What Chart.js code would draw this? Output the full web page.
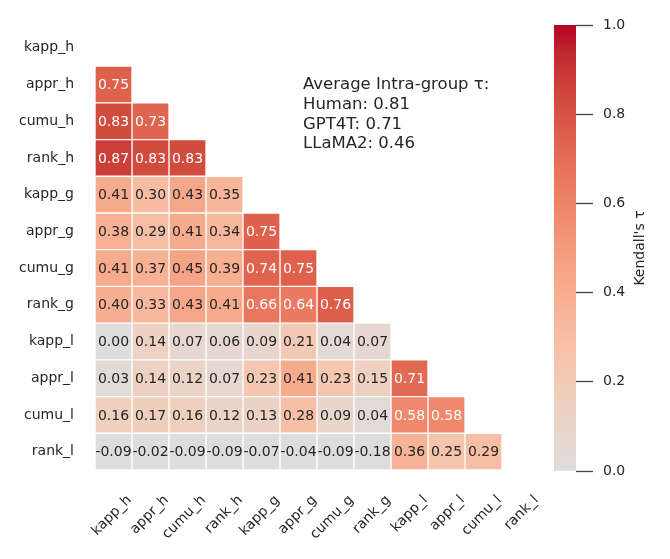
<!DOCTYPE html>
<html>
<head>
<meta charset="utf-8">
<script src="https://cdn.jsdelivr.net/npm/chart.js@4.4.0/dist/chart.umd.min.js"></script>
<style>
    body { margin: 0; background: #fff; }
    #wrap { position: relative; width: 670px; height: 559px; }
    #mainBox { position: absolute; left: 0; top: 0; width: 670px; height: 559px; }
    #barBox { position: absolute; left: 540px; top: 0; width: 130px; height: 559px; }
</style>
</head>
<body>
<div id="wrap">
    <div id="mainBox"><canvas id="heatmap"></canvas></div>
    <div id="barBox"><canvas id="colorbar"></canvas></div>
</div>
<script>
const rowLabels = ['kapp_h', 'appr_h', 'cumu_h', 'rank_h', 'kapp_g', 'appr_g', 'cumu_g', 'rank_g', 'kapp_l', 'appr_l', 'cumu_l', 'rank_l'];
const colLabels = ['kapp_h', 'appr_h', 'cumu_h', 'rank_h', 'kapp_g', 'appr_g', 'cumu_g', 'rank_g', 'kapp_l', 'appr_l', 'cumu_l', 'rank_l'];

// lower triangle of Kendall's tau, row i holds columns 0..i-1
const tauRows = [
    [],
    [0.75],
    [0.83, 0.73],
    [0.87, 0.83, 0.83],
    [0.41, 0.30, 0.43, 0.35],
    [0.38, 0.29, 0.41, 0.34, 0.75],
    [0.41, 0.37, 0.45, 0.39, 0.74, 0.75],
    [0.40, 0.33, 0.43, 0.41, 0.66, 0.64, 0.76],
    [0.00, 0.14, 0.07, 0.06, 0.09, 0.21, 0.04, 0.07],
    [0.03, 0.14, 0.12, 0.07, 0.23, 0.41, 0.23, 0.15, 0.71],
    [0.16, 0.17, 0.16, 0.12, 0.13, 0.28, 0.09, 0.04, 0.58, 0.58],
    [-0.09, -0.02, -0.09, -0.09, -0.07, -0.04, -0.09, -0.18, 0.36, 0.25, 0.29]
];

const groupNames = ['Human', 'GPT4T', 'LLaMA2'];
const groupAverages = [0.81, 0.71, 0.46];

const colorbarTicks = [0, 0.2, 0.4, 0.6, 0.8, 1.0];

// upper half of matplotlib's coolwarm (0 -> grey, 1 -> red)
const cmapStops = [
    [221, 221, 221], [229, 216, 209], [236, 211, 197], [241, 204, 185],
    [245, 196, 173], [247, 187, 160], [247, 177, 148], [247, 166, 135],
    [244, 154, 123], [241, 141, 111], [236, 127, 99], [229, 112, 88],
    [222, 96, 77], [213, 80, 66], [203, 62, 56], [192, 40, 47], [180, 4, 38]
];

const FONT = "'DejaVu Sans', sans-serif";
const TEXT_DARK = '#262626';

function cmapRgb(v) {
    const t = Math.min(1, Math.max(0, v)) * (cmapStops.length - 1);
    const i = Math.min(cmapStops.length - 2, Math.floor(t));
    const f = t - i;
    const a = cmapStops[i], b = cmapStops[i + 1];
    return a.map((c, k) => Math.round(c + (b[k] - c) * f));
}

function cmap(v) {
    const [r, g, b] = cmapRgb(v);
    return `rgb(${r}, ${g}, ${b})`;
}

// same rule seaborn uses to pick annotation colour
function textColorFor(v) {
    const lin = cmapRgb(v).map(c => {
        c = c / 255;
        return c <= 0.03928 ? c / 12.92 : Math.pow((c + 0.055) / 1.055, 2.4);
    });
    const lum = 0.2126 * lin[0] + 0.7152 * lin[1] + 0.0722 * lin[2];
    return lum > 0.408 ? TEXT_DARK : '#ffffff';
}

const datasets = colLabels.map((col, j) => ({
    label: col,
    data: rowLabels.map((row, i) => (i > j ? [j, j + 1] : null)),
    backgroundColor: ctx => {
        const v = tauRows[ctx.dataIndex][ctx.datasetIndex];
        return v === undefined ? 'rgba(0,0,0,0)' : cmap(v);
    },
    borderColor: '#ffffff',
    borderWidth: 1,
    borderSkipped: false,
    barPercentage: 1,
    categoryPercentage: 1,
    grouped: false
}));

const cellLabels = {
    id: 'cellLabels',
    afterDatasetsDraw(chart) {
        const ctx = chart.ctx;
        ctx.save();
        ctx.font = `14px ${FONT}`;
        ctx.textAlign = 'center';
        ctx.textBaseline = 'middle';
        chart.data.datasets.forEach((ds, j) => {
            chart.getDatasetMeta(j).data.forEach((el, i) => {
                const v = tauRows[i][j];
                if (v === undefined) return;
                const p = el.getCenterPoint();
                ctx.fillStyle = textColorFor(v);
                ctx.fillText(v.toFixed(2), p.x, p.y + 1);
            });
        });

        ctx.fillStyle = TEXT_DARK;
        ctx.textAlign = 'left';
        ctx.font = `16.5px ${FONT}`;
        ctx.fillText('Average Intra-group \u03c4:', 303, 85);
        groupNames.forEach((name, k) => {
            ctx.fillText(`${name}: ${groupAverages[k].toFixed(2)}`, 303, 105 + k * 19.5);
        });
        ctx.restore();
    }
};

new Chart(document.getElementById('heatmap'), {
    type: 'bar',
    data: { labels: rowLabels, datasets: datasets },
    options: {
        indexAxis: 'y',
        responsive: true,
        maintainAspectRatio: false,
        animation: false,
        layout: { padding: { left: 0, right: 131, top: 26, bottom: 0 } },
        plugins: { legend: { display: false }, tooltip: { enabled: false } },
        scales: {
            x: {
                type: 'linear',
                min: 0,
                max: 12,
                grid: { display: false, drawTicks: false },
                border: { display: false },
                afterBuildTicks: scale => {
                    scale.ticks = colLabels.map((c, i) => ({ value: i + 0.5 }));
                },
                afterFit: scale => { scale.height = 89; },
                ticks: {
                    autoSkip: false,
                    minRotation: 45,
                    maxRotation: 45,
                    labelOffset: 16,
                    padding: 22,
                    color: TEXT_DARK,
                    font: { family: FONT, size: 14 },
                    callback: (value, index) => colLabels[index]
                }
            },
            y: {
                type: 'category',
                grid: { display: false, drawTicks: false },
                border: { display: false },
                afterFit: scale => { scale.width = 95; },
                ticks: {
                    padding: 21,
                    color: TEXT_DARK,
                    font: { family: FONT, size: 14 }
                }
            }
        }
    },
    plugins: [cellLabels]
});

const colorbarTitle = {
    id: 'colorbarTitle',
    afterDraw(chart) {
        const ctx = chart.ctx;
        const area = chart.chartArea;
        ctx.save();
        ctx.translate(100, (area.top + area.bottom) / 2);
        ctx.rotate(-Math.PI / 2);
        ctx.font = `14px ${FONT}`;
        ctx.fillStyle = TEXT_DARK;
        ctx.textAlign = 'center';
        ctx.textBaseline = 'middle';
        ctx.fillText("Kendall's \u03c4", 0, 0);
        ctx.restore();
    }
};

new Chart(document.getElementById('colorbar'), {
    type: 'bar',
    data: {
        labels: ['tau'],
        datasets: [{
            data: [[0, 1]],
            backgroundColor: ctx => {
                const area = ctx.chart.chartArea;
                if (!area) return cmap(0.5);
                const g = ctx.chart.ctx.createLinearGradient(0, area.bottom, 0, area.top);
                cmapStops.forEach((c, k) => {
                    g.addColorStop(k / (cmapStops.length - 1), `rgb(${c[0]}, ${c[1]}, ${c[2]})`);
                });
                return g;
            },
            borderWidth: 0,
            barPercentage: 1,
            categoryPercentage: 1
        }]
    },
    options: {
        responsive: true,
        maintainAspectRatio: false,
        animation: false,
        layout: { padding: { left: 14, right: 0, top: 25, bottom: 88 } },
        plugins: { legend: { display: false }, tooltip: { enabled: false } },
        scales: {
            x: { display: false },
            y: {
                position: 'right',
                min: 0,
                max: 1,
                afterBuildTicks: scale => {
                    scale.ticks = colorbarTicks.map(v => ({ value: v }));
                },
                afterFit: scale => { scale.width = 94; },
                grid: { drawOnChartArea: false, tickLength: 17, tickColor: '#444444', tickWidth: 1.3 },
                border: { display: false },
                ticks: {
                    padding: 10,
                    color: TEXT_DARK,
                    font: { family: FONT, size: 14 },
                    callback: v => v.toFixed(1)
                }
            }
        }
    },
    plugins: [colorbarTitle]
});
</script>
</body>
</html>
